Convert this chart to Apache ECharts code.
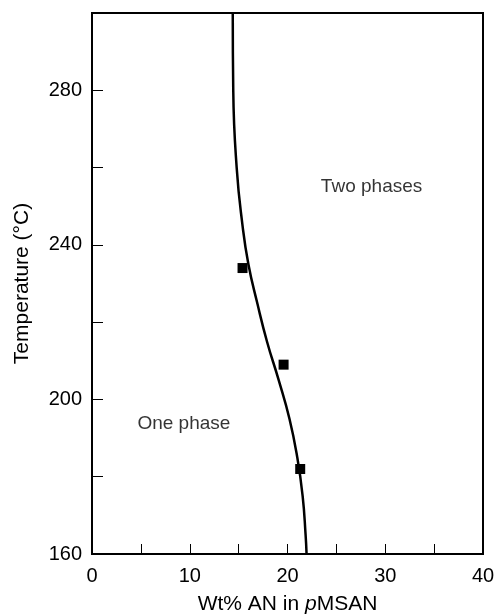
<!DOCTYPE html>
<html><head><meta charset="utf-8">
<script src="https://cdn.jsdelivr.net/npm/echarts@6/dist/echarts.min.js"></script>
<style>html,body{margin:0;padding:0;background:#fff}#c{width:495px;height:614px}</style>
</head><body><div id="c"></div>
<script>
// Phase boundary curve (Wt% AN, Temperature °C)
const curveAN   = [14.4, 14.45, 14.8, 15.4, 16.0, 16.9, 17.9, 19.1, 20.2, 21.0, 21.55, 21.85, 21.95];
const curveTemp = [300, 280, 260, 245, 235, 225, 215, 205, 195, 185, 175, 165, 160];
// Measured points
const pointAN   = [15.4, 19.6, 21.3];
const pointTemp = [234, 209, 182];
// Region labels
const labelText = ['One phase', 'Two phases'];
const labelAN   = [9.4, 28.6];
const labelTemp = [193.8, 255];
// Axis ticks
const xLabels = [0, 10, 20, 30, 40];
const yLabels = [160, 200, 240, 280];

const chart = echarts.init(document.getElementById('c'));
const font = 'Liberation Sans, Arial, sans-serif';
chart.setOption({
  animation: false,
  backgroundColor: '#fff',
  grid: { left: 92, right: 12, top: 13, bottom: 60, containLabel: false, outerBoundsMode: 'none',
    show: true, borderColor: '#000', borderWidth: 2, backgroundColor: 'transparent' },
  xAxis: {
    type: 'value', min: 0, max: 40, interval: 5,
    name: '{a|Wt% AN in }{i|p}{a|MSAN}', nameLocation: 'middle', nameGap: 40,
    nameTextStyle: { rich: { a: { fontFamily: font, fontSize: 21, color: '#000' }, i: { fontFamily: font, fontSize: 21, fontStyle: 'italic', color: '#000' } } },
    axisLine: { lineStyle: { color: '#000', width: 2 } },
    axisTick: { inside: true, length: 10, lineStyle: { color: '#000', width: 1 } },
    axisLabel: { fontFamily: font, fontSize: 20, color: '#000', margin: 12,
      formatter: v => xLabels.includes(v) ? String(v) : '' },
    splitLine: { show: false }
  },
  yAxis: {
    type: 'value', min: 160, max: 300, interval: 20,
    name: 'Temperature (°C)', nameLocation: 'middle', nameGap: 59,
    nameTextStyle: { fontFamily: font, fontSize: 21, color: '#000' },
    axisLine: { lineStyle: { color: '#000', width: 2 } },
    axisTick: { inside: true, length: 11, lineStyle: { color: '#000', width: 1 } },
    axisLabel: { fontFamily: font, fontSize: 20, color: '#000', margin: 10,
      formatter: v => yLabels.includes(v) ? String(v) : '' },
    splitLine: { show: false }
  },
  series: [
    { type: 'line', smooth: 0.5, symbol: 'none', data: curveAN.map((x, i) => [x, curveTemp[i]]),
      lineStyle: { color: '#000', width: 2.5 }, z: 3 },
    { type: 'scatter', symbol: 'rect', symbolSize: [10, 10], data: pointAN.map((x, i) => [x, pointTemp[i]]),
      itemStyle: { color: '#000', opacity: 1 }, z: 4 },
    { type: 'scatter', symbolSize: 0, data: labelAN.map((x, i) => [x, labelTemp[i], labelText[i]]),
      label: { show: true, position: 'inside', formatter: p => p.data[2], fontFamily: font, fontSize: 19, color: '#000' },
      silent: true }
  ]
});
</script></body></html>
